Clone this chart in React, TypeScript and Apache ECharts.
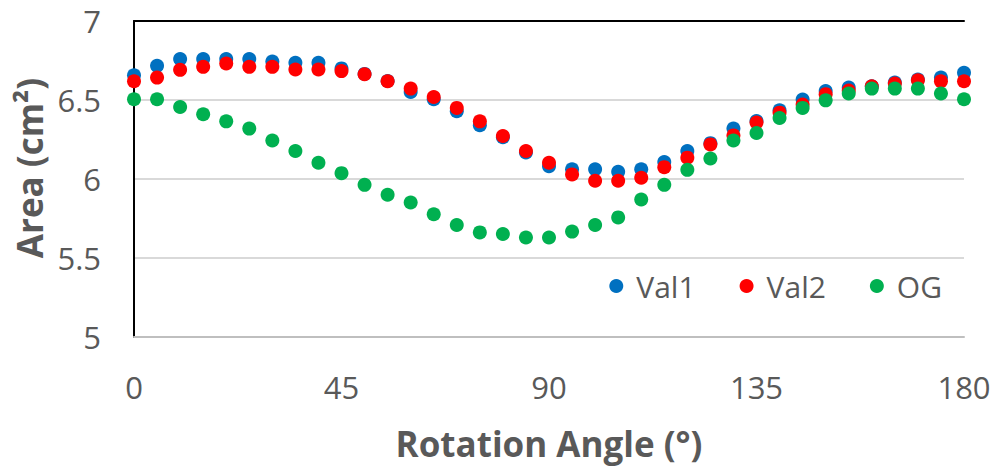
import React, { useEffect, useRef } from "react";
import * as echarts from "echarts";

// Rotation angles, 0–180° in 5° steps
const angles: number[] = [
  0, 5, 10, 15, 20, 25, 30, 35, 40, 45, 50, 55, 60, 65, 70, 75, 80, 85, 90,
  95, 100, 105, 110, 115, 120, 125, 130, 135, 140, 145, 150, 155, 160, 165,
  170, 175, 180,
];

// Area (cm²) per angle
const val1: number[] = [
  6.657, 6.716, 6.759, 6.759, 6.759, 6.759, 6.744, 6.735, 6.735, 6.7, 6.665,
  6.62, 6.551, 6.505, 6.429, 6.34, 6.265, 6.168, 6.081, 6.062, 6.062, 6.046,
  6.062, 6.107, 6.177, 6.227, 6.319, 6.367, 6.435, 6.503, 6.557, 6.579, 6.587,
  6.61, 6.63, 6.642, 6.672,
];
const val2: number[] = [
  6.619, 6.642, 6.691, 6.71, 6.731, 6.71, 6.71, 6.693, 6.693, 6.683, 6.663,
  6.619, 6.572, 6.519, 6.45, 6.365, 6.272, 6.177, 6.103, 6.029, 5.989, 5.989,
  6.008, 6.075, 6.135, 6.219, 6.276, 6.357, 6.42, 6.471, 6.537, 6.56, 6.587,
  6.604, 6.625, 6.619, 6.619,
];
const og: number[] = [
  6.505, 6.505, 6.456, 6.41, 6.365, 6.319, 6.244, 6.177, 6.103, 6.037, 5.963,
  5.9, 5.851, 5.777, 5.709, 5.662, 5.652, 5.63, 5.63, 5.667, 5.709, 5.757,
  5.87, 5.963, 6.058, 6.13, 6.244, 6.291, 6.386, 6.45, 6.498, 6.541, 6.572,
  6.572, 6.572, 6.541, 6.505,
];

const FONT = "'Open Sans', 'Noto Sans', sans-serif";
const TEXT = "#595959";

const pairs = (ys: number[]) => angles.map((a, i) => [a, ys[i]]);

export default function App() {
  const ref = useRef<HTMLDivElement>(null);

  useEffect(() => {
    if (!ref.current) return;
    const chart = echarts.init(ref.current, undefined, { renderer: "svg" });
    // plain black frame edges along the top and right of the plot
    const frameAxis = {
      axisLabel: { show: false },
      axisTick: { show: false },
      splitLine: { show: false },
      axisLine: { show: true, lineStyle: { color: "#000000", width: 2 } },
    };
    const dot = (name: string, color: string, ys: number[]) => ({
      name,
      type: "scatter",
      symbolSize: 14,
      itemStyle: { color, opacity: 1 },
      data: pairs(ys),
    });
    chart.setOption({
      animation: false,
      backgroundColor: "#ffffff",
      textStyle: { fontFamily: FONT },
      grid: { left: 134, right: 31, top: 21, bottom: 129 },
      legend: {
        right: 48,
        top: 266,
        itemGap: 44,
        icon: "circle",
        itemWidth: 30,
        itemHeight: 14,
        textStyle: { fontFamily: FONT, fontSize: 30, lineHeight: 30, color: TEXT },
        data: ["Val1", "Val2", "OG"],
      },
      xAxis: [
        {
          type: "value",
          min: 0,
          max: 180,
          interval: 45,
          name: "Rotation Angle (°)",
          nameLocation: "middle",
          nameGap: 89,
          nameTextStyle: { fontFamily: FONT, fontSize: 35, fontWeight: "bold", color: TEXT },
          axisLine: { show: true, onZero: false, lineStyle: { color: "#bfbfbf", width: 2 } },
          axisTick: { show: false },
          axisLabel: { margin: 34, fontSize: 31, color: TEXT, fontFamily: FONT },
          splitLine: { show: false },
        },
        { type: "value", position: "top", min: 0, max: 180, ...frameAxis },
      ],
      yAxis: [
        {
          type: "value",
          min: 5,
          max: 7,
          interval: 0.5,
          name: "Area (cm²)",
          nameLocation: "middle",
          nameGap: 86,
          nameTextStyle: {
            fontFamily: FONT,
            fontSize: 35,
            fontWeight: "bold",
            color: TEXT,
            padding: [0, 0, 0, 22],
          },
          axisLine: { show: true, lineStyle: { color: "#bfbfbf", width: 2 } },
          axisTick: { show: false },
          axisLabel: { margin: 33, fontSize: 31, color: TEXT, fontFamily: FONT },
          splitLine: { show: true, lineStyle: { color: "#d9d9d9", width: 2 } },
        },
        { type: "value", position: "right", min: 5, max: 7, ...frameAxis },
      ],
      series: [
        dot("Val1", "#0070C0", val1),
        dot("Val2", "#FF0000", val2),
        dot("OG", "#00B050", og),
      ],
    });
    return () => chart.dispose();
  }, []);

  return (
    <div
      ref={ref}
      style={{ position: "absolute", left: 0, top: 0, width: 995, height: 466 }}
    />
  );
}
